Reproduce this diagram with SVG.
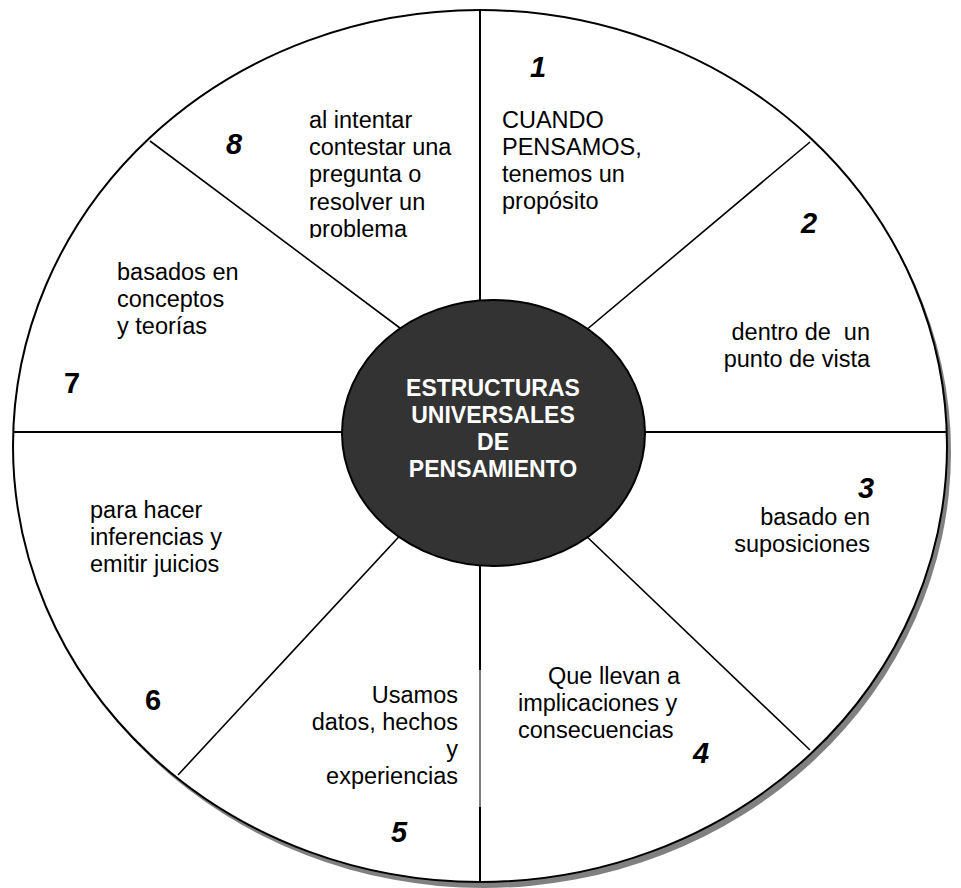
<svg xmlns="http://www.w3.org/2000/svg" width="961" height="888" viewBox="0 0 961 888">
<style>
.t{font-family:"Liberation Sans",Arial,sans-serif;font-size:23.5px;fill:#000}
.n{font-family:"Liberation Sans",Arial,sans-serif;font-size:29px;font-weight:bold;font-style:italic;fill:#000}
.nu{font-family:"Liberation Sans",Arial,sans-serif;font-size:29px;font-weight:bold;fill:#000}
.c{font-family:"Liberation Sans",Arial,sans-serif;font-size:23px;font-weight:bold;fill:#fff;text-anchor:middle}
.s{stroke:#000;stroke-width:2;fill:none}
.r{text-anchor:end}
</style>
<defs>
<clipPath id="clip8"><rect x="300" y="100" width="170" height="138"/></clipPath>
</defs>
<rect x="0" y="0" width="961" height="888" fill="#fff"/>
<g id="wheel">
<ellipse cx="484" cy="452" rx="467" ry="436" fill="#808080"/>
<ellipse cx="480" cy="446" rx="467" ry="436" fill="#fff" stroke="#000" stroke-width="2"/>
</g>
<g id="connectors" class="s">
<line x1="480" y1="10" x2="480" y2="350"/>
<line x1="480" y1="500" x2="480" y2="670"/>
<line x1="480" y1="670" x2="480" y2="807" stroke-width="1"/>
<line x1="480" y1="807" x2="480" y2="882"/>
<line x1="13" y1="432" x2="420" y2="432"/>
<line x1="570" y1="432" x2="947" y2="432"/>
<line x1="150" y1="141" x2="420" y2="343" stroke-width="1.6"/>
<line x1="810" y1="142" x2="560" y2="352" stroke-width="1.6"/>
<line x1="178" y1="775" x2="420" y2="514" stroke-width="1.6"/>
<line x1="810" y1="750" x2="560" y2="511" stroke-width="1.6"/>
</g>
<g id="center">
<ellipse cx="493.5" cy="433" rx="151.5" ry="133" fill="#333" stroke="#000" stroke-width="2"/>
<text class="c" x="493" y="396">ESTRUCTURAS</text>
<text class="c" x="493" y="423">UNIVERSALES</text>
<text class="c" x="493" y="450">DE</text>
<text class="c" x="493" y="477">PENSAMIENTO</text>
</g>
<g id="node1">
<text class="n" x="530" y="77">1</text>
<text class="t" x="502" y="128">CUANDO</text>
<text class="t" x="502" y="155">PENSAMOS,</text>
<text class="t" x="502" y="182">tenemos un</text>
<text class="t" x="502" y="209">propósito</text>
</g>
<g id="node2">
<text class="n" x="801" y="233">2</text>
<text class="t r" x="870" y="340" xml:space="preserve">dentro de  un</text>
<text class="t r" x="870" y="367">punto de vista</text>
</g>
<g id="node3">
<text class="n" x="858" y="498">3</text>
<text class="t r" x="870" y="525">basado en</text>
<text class="t r" x="870" y="552">suposiciones</text>
</g>
<g id="node4">
<text class="n" x="693" y="763">4</text>
<text class="t" x="548" y="684">Que llevan a</text>
<text class="t" x="518" y="711">implicaciones y</text>
<text class="t" x="518" y="738">consecuencias</text>
</g>
<g id="node5">
<text class="n" x="391" y="842">5</text>
<text class="t r" x="458" y="703">Usamos</text>
<text class="t r" x="458" y="730">datos, hechos</text>
<text class="t r" x="458" y="757">y</text>
<text class="t r" x="458" y="784">experiencias</text>
</g>
<g id="node6">
<text class="nu" x="145" y="710">6</text>
<text class="t" x="90" y="518">para hacer</text>
<text class="t" x="90" y="545">inferencias y</text>
<text class="t" x="90" y="572">emitir juicios</text>
</g>
<g id="node7">
<text class="nu" x="64" y="393">7</text>
<text class="t" x="117" y="280">basados en</text>
<text class="t" x="117" y="307">conceptos</text>
<text class="t" x="117" y="334">y teorías</text>
</g>
<g id="node8">
<text class="n" x="226" y="154">8</text>
<g clip-path="url(#clip8)">
<text class="t" x="309" y="128">al intentar</text>
<text class="t" x="309" y="155">contestar una</text>
<text class="t" x="309" y="182">pregunta o</text>
<text class="t" x="309" y="210">resolver un</text>
<text class="t" x="309" y="237">problema</text>
</g>
</g>
</svg>
